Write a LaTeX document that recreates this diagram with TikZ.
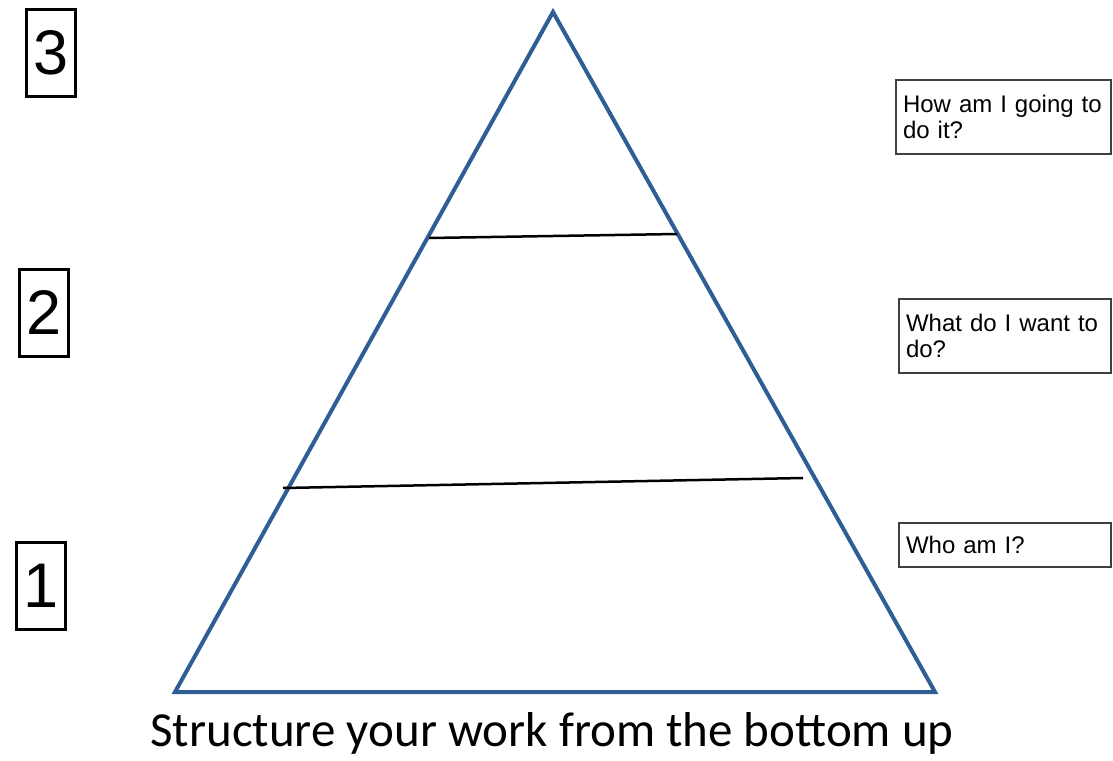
\documentclass[tikz,border=0pt]{standalone}
\usepackage{fontspec}
\setmainfont{Liberation Sans}
\newfontfamily\capfont{Carlito}
\definecolor{pyrblue}{RGB}{47,94,148}
\begin{document}
\begin{tikzpicture}[x=1pt,y=-1pt,
    numbox/.style={draw,line width=3pt,inner sep=0pt,minimum width=49pt,
      minimum height=87pt,font=\fontsize{63}{63}\selectfont},
    qbox/.style={draw=black!75,line width=1.5pt,inner xsep=7pt,inner ysep=0pt,
      align=left,font=\fontsize{24}{26}\selectfont}]
    \useasboundingbox (0,0) rectangle (1113,760);
    % Piramide
    \coordinate (apex) at (553,12);
    \coordinate (bl) at (175,692);
    \coordinate (br) at (935,692);
    \draw[pyrblue,line width=4pt,line join=miter] (apex) -- (br) -- (bl) -- cycle;
    % Linee dei livelli
    \coordinate (up-l) at (429,238);
    \coordinate (up-r) at (677,234);
    \coordinate (lo-l) at (283,488);
    \coordinate (lo-r) at (803,478);
    \draw[line width=2.5pt] (up-l) -- (up-r);
    \draw[line width=2.5pt] (lo-l) -- (lo-r);
    % Numeri a sinistra
    \node[numbox] (n3) at (51,53) {3};
    \node[numbox] (n2) at (44,313) {2};
    \node[numbox] (n1) at (41,586) {1};
    % Domande a destra
    \node[qbox,minimum width=215pt,minimum height=74pt,text width=201pt]
      (q3) at (1003.5,117) {How am I going to\\do it?};
    \node[qbox,minimum width=212pt,minimum height=74pt,text width=198pt]
      (q2) at (1005,336) {What do I want to\\do?};
    \node[qbox,minimum width=212pt,minimum height=44pt,text width=198pt]
      (q1) at (1005,545) {Who am I?};
    % Didascalia
    \node[anchor=base,font=\capfont\fontsize{49}{49}\selectfont] (cap) at (552,746)
      {Structure your work from the bottom up};
\end{tikzpicture}
\end{document}
